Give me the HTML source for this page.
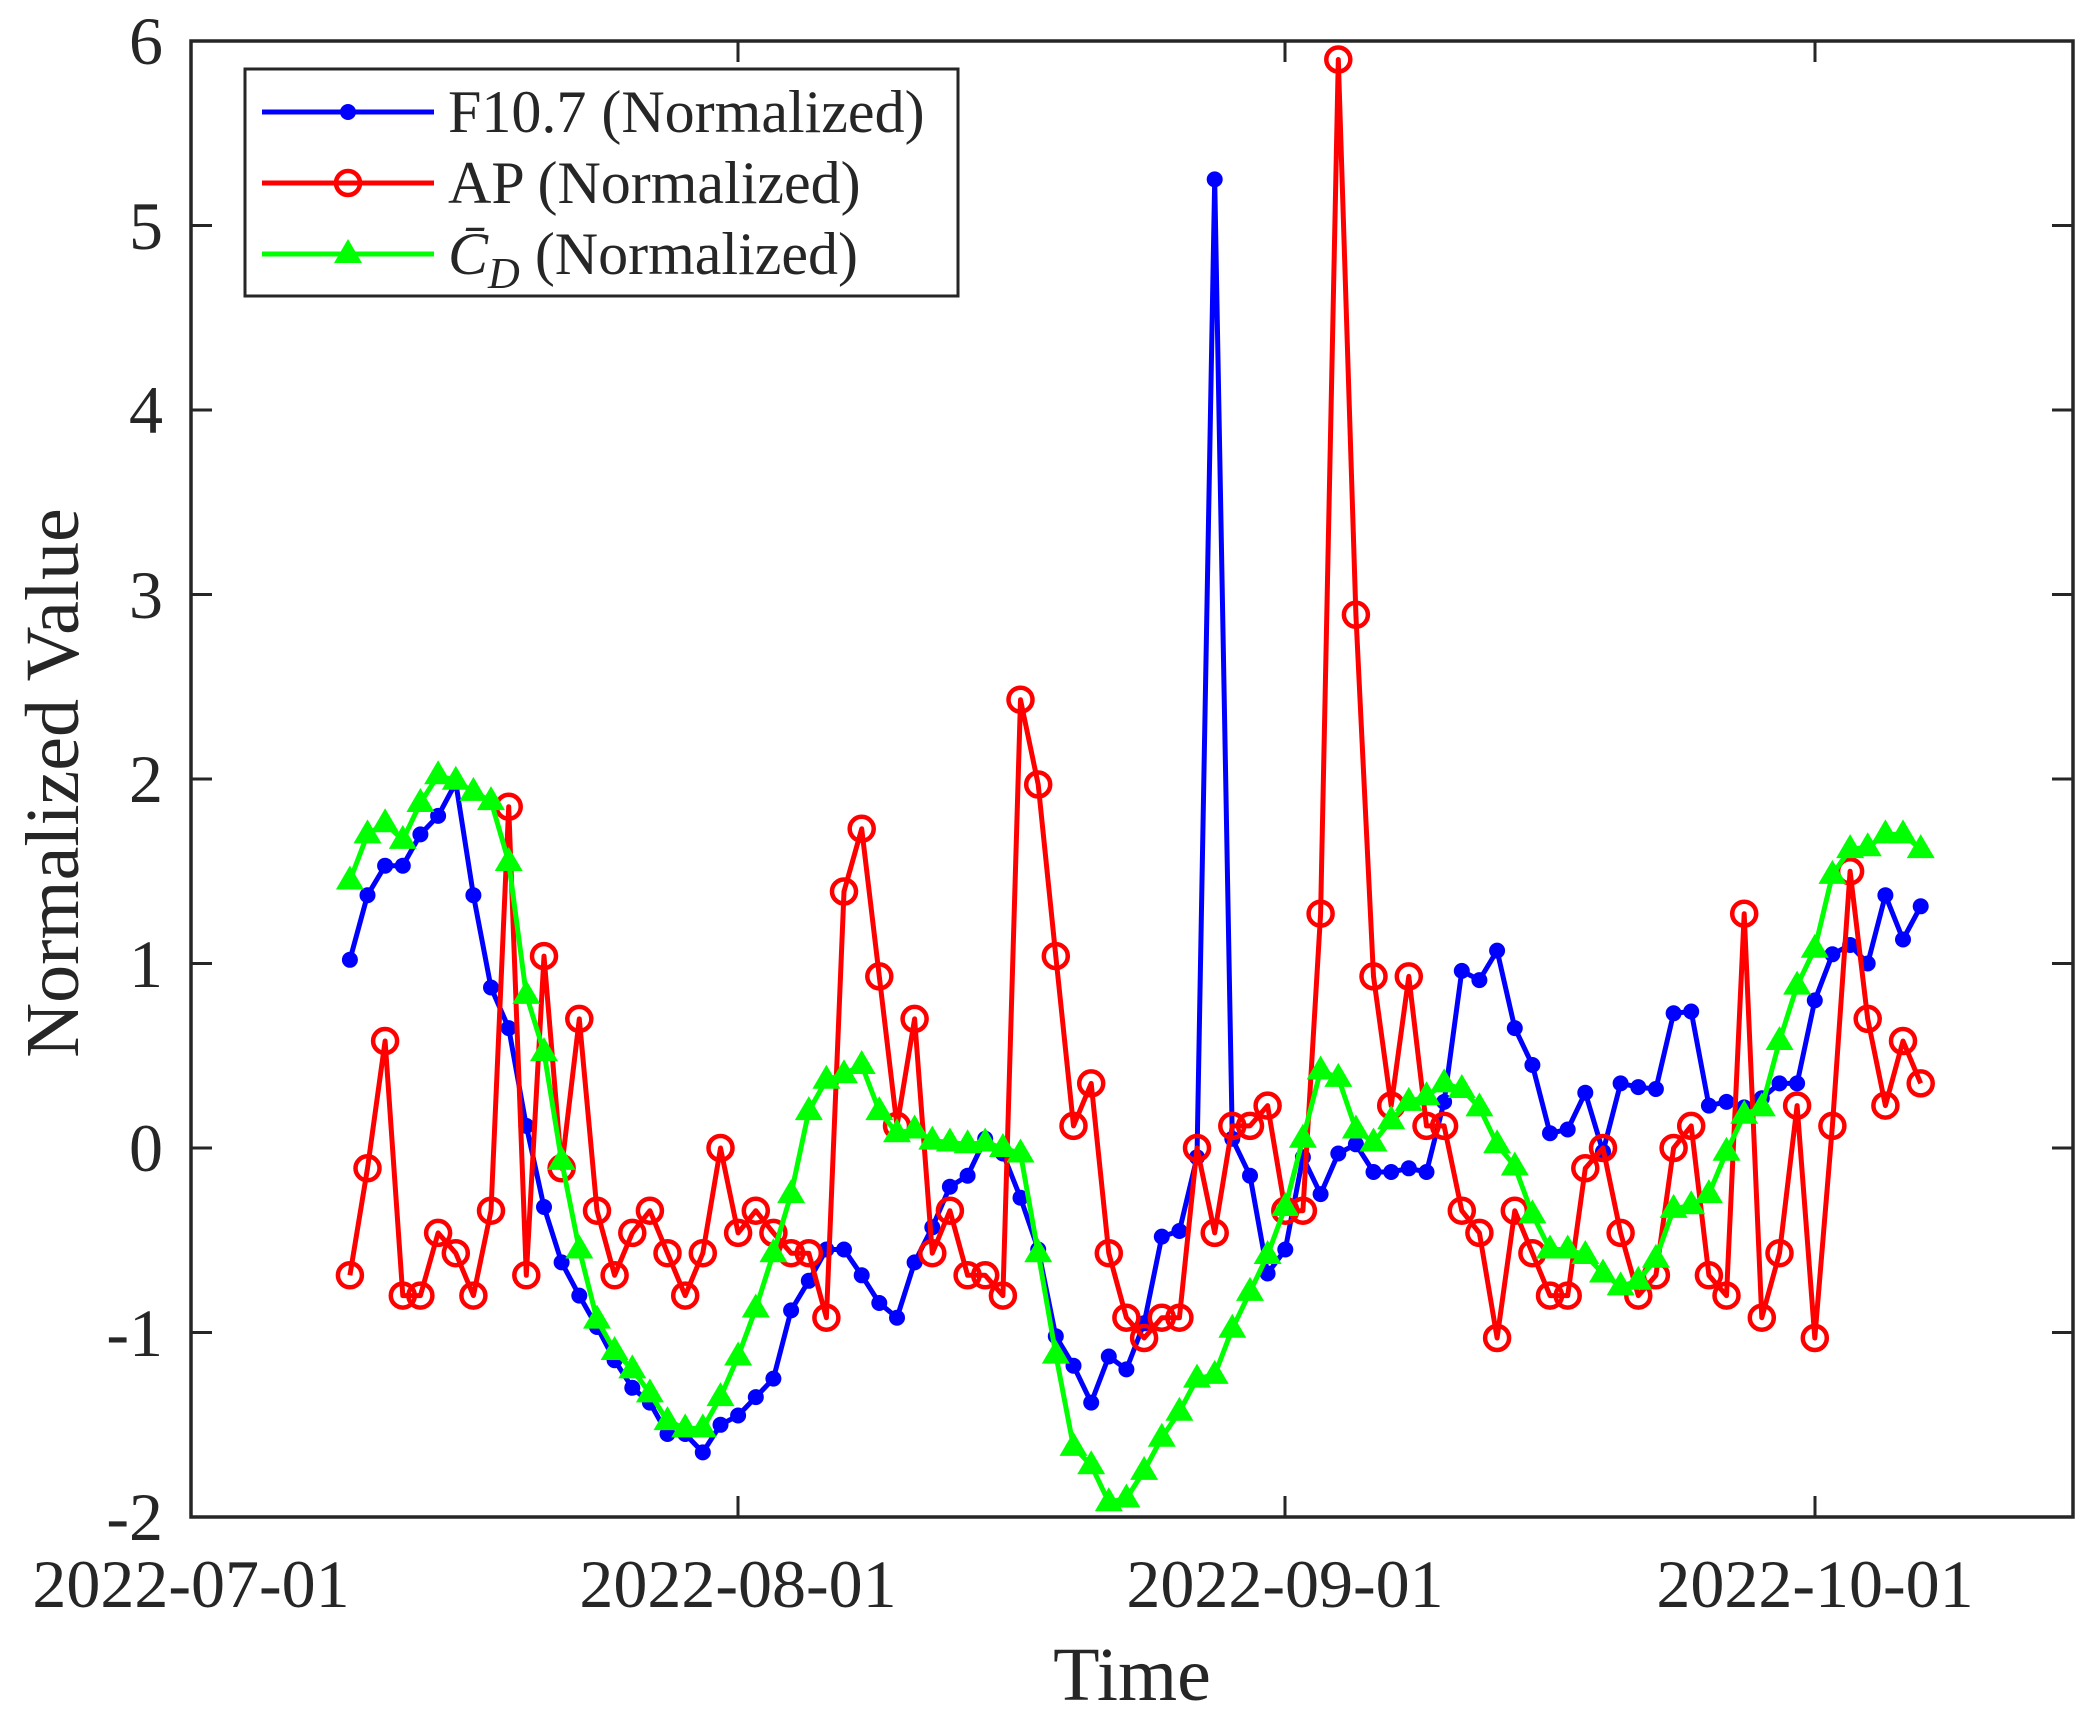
<!DOCTYPE html>
<html><head><meta charset="utf-8"><style>
html,body{margin:0;padding:0;background:#fff}
svg{display:block}
text{font-family:"Liberation Serif",serif;fill:#262626}
</style></head><body>
<svg id="s" width="2090" height="1719" viewBox="0 0 2090 1719" xmlns="http://www.w3.org/2000/svg">
<defs>
<marker id="mb" markerUnits="userSpaceOnUse" markerWidth="24" markerHeight="24" refX="12" refY="12" overflow="visible"><circle cx="12" cy="12" r="8" fill="#0000ff"/></marker>
<marker id="mr" markerUnits="userSpaceOnUse" markerWidth="40" markerHeight="40" refX="20" refY="20" overflow="visible"><circle cx="20" cy="20" r="12" fill="none" stroke="#ff0000" stroke-width="4.5"/></marker>
<marker id="mg" markerUnits="userSpaceOnUse" markerWidth="40" markerHeight="40" refX="20" refY="20" overflow="visible"><polygon points="20,5 34,29 6,29" fill="#00ff00"/></marker>
</defs>
<rect x="191" y="41" width="1882" height="1476" fill="#fff" stroke="#262626" stroke-width="3.5"/>
<g id="ticks" stroke="#262626" stroke-width="3"></g>
<g id="plot"></g>
<g font-size="68">
<text x="163" y="64" text-anchor="end">6</text>
<text x="163" y="249" text-anchor="end">5</text>
<text x="163" y="433" text-anchor="end">4</text>
<text x="163" y="618" text-anchor="end">3</text>
<text x="163" y="802" text-anchor="end">2</text>
<text x="163" y="987" text-anchor="end">1</text>
<text x="163" y="1171" text-anchor="end">0</text>
<text x="163" y="1356" text-anchor="end">-1</text>
<text x="163" y="1540" text-anchor="end">-2</text>
<text x="191" y="1607" text-anchor="middle">2022-07-01</text>
<text x="738" y="1607" text-anchor="middle">2022-08-01</text>
<text x="1285" y="1607" text-anchor="middle">2022-09-01</text>
<text x="1815" y="1607" text-anchor="middle">2022-10-01</text>
</g>
<text x="1132" y="1700" font-size="76" text-anchor="middle">Time</text>
<text transform="translate(78,783) rotate(-90)" font-size="76" text-anchor="middle">Normalized Value</text>
<rect x="245" y="69" width="713" height="227" fill="#fff" stroke="#262626" stroke-width="3"/>
<line x1="262" y1="112" x2="434" y2="112" stroke="#0000ff" stroke-width="5"/><circle cx="348" cy="112" r="8" fill="#0000ff"/>
<line x1="262" y1="183" x2="434" y2="183" stroke="#ff0000" stroke-width="5"/><circle cx="348" cy="183" r="12" fill="none" stroke="#ff0000" stroke-width="4.5"/>
<line x1="262" y1="254" x2="434" y2="254" stroke="#00ff00" stroke-width="5"/><polygon points="348,239 362,263 334,263" fill="#00ff00"/>
<g font-size="60">
<text x="448" y="132">F10.7 (Normalized)</text>
<text x="448" y="203">AP (Normalized)</text>
<text x="448" y="274"><tspan font-style="italic">C̄</tspan><tspan font-style="italic" font-size="44" dy="14">D</tspan><tspan dy="-14"> (Normalized)</tspan></text>
</g>
</svg>
<script>
var F=[1.02,1.37,1.53,1.53,1.70,1.80,1.98,1.37,0.87,0.65,0.12,-0.32,-0.62,-0.80,-0.97,-1.15,-1.30,-1.38,-1.55,-1.55,-1.65,-1.50,-1.45,-1.35,-1.25,-0.88,-0.72,-0.55,-0.55,-0.69,-0.84,-0.92,-0.62,-0.43,-0.21,-0.15,0.05,-0.03,-0.27,-0.55,-1.02,-1.18,-1.38,-1.13,-1.20,-0.95,-0.48,-0.45,-0.05,5.25,0.05,-0.15,-0.68,-0.55,-0.05,-0.25,-0.03,0.02,-0.13,-0.13,-0.11,-0.13,0.25,0.96,0.91,1.07,0.65,0.45,0.08,0.10,0.30,-0.02,0.35,0.33,0.32,0.73,0.74,0.23,0.25,0.22,0.27,0.35,0.35,0.80,1.05,1.10,1.00,1.37,1.13,1.31];
var A=[-0.69,-0.11,0.58,-0.80,-0.80,-0.46,-0.57,-0.80,-0.34,1.85,-0.69,1.04,-0.11,0.70,-0.34,-0.69,-0.46,-0.34,-0.57,-0.80,-0.57,0.00,-0.46,-0.34,-0.46,-0.57,-0.57,-0.92,1.39,1.73,0.93,0.12,0.70,-0.57,-0.34,-0.69,-0.69,-0.80,2.43,1.97,1.04,0.12,0.35,-0.57,-0.92,-1.03,-0.92,-0.92,0.00,-0.46,0.12,0.12,0.23,-0.34,-0.34,1.27,5.90,2.89,0.93,0.23,0.93,0.12,0.12,-0.34,-0.46,-1.03,-0.34,-0.57,-0.80,-0.80,-0.11,0.00,-0.46,-0.80,-0.69,0.00,0.12,-0.69,-0.80,1.27,-0.92,-0.57,0.23,-1.03,0.12,1.50,0.70,0.23,0.58,0.35];
var C=[1.45,1.70,1.76,1.67,1.87,2.02,1.99,1.93,1.88,1.55,0.83,0.52,-0.07,-0.55,-0.93,-1.10,-1.20,-1.33,-1.48,-1.52,-1.52,-1.35,-1.13,-0.87,-0.57,-0.25,0.20,0.37,0.40,0.45,0.20,0.08,0.10,0.04,0.03,0.02,0.03,0.00,-0.03,-0.57,-1.12,-1.62,-1.72,-1.92,-1.90,-1.75,-1.57,-1.43,-1.25,-1.23,-0.98,-0.78,-0.58,-0.32,0.05,0.42,0.38,0.10,0.03,0.15,0.25,0.28,0.35,0.32,0.22,0.02,-0.10,-0.36,-0.55,-0.55,-0.58,-0.68,-0.75,-0.72,-0.60,-0.33,-0.31,-0.25,-0.02,0.18,0.22,0.58,0.88,1.08,1.48,1.62,1.63,1.70,1.70,1.62];
var NS="http://www.w3.org/2000/svg";
function pl(d,col,m){var p=document.createElementNS(NS,"polyline");var s=[];for(var i=0;i<d.length;i++){s.push((191+17.65*(i+9)).toFixed(1)+","+(1148-184.5*d[i]).toFixed(1));}
p.setAttribute("points",s.join(" "));p.setAttribute("fill","none");p.setAttribute("stroke",col);p.setAttribute("stroke-width","5");p.setAttribute("stroke-linejoin","round");
p.setAttribute("marker-start","url(#"+m+")");p.setAttribute("marker-mid","url(#"+m+")");p.setAttribute("marker-end","url(#"+m+")");document.getElementById("plot").appendChild(p);}
pl(F,"#0000ff","mb");pl(A,"#ff0000","mr");pl(C,"#00ff00","mg");
var t=document.getElementById("ticks"),h="";
[738,1285,1815].forEach(function(x){h+='<line x1="'+x+'" y1="1517" x2="'+x+'" y2="1496"/><line x1="'+x+'" y1="41" x2="'+x+'" y2="62"/>';});
for(var v=-1;v<=5;v++){var y=1148-184.5*v;h+='<line x1="191" y1="'+y+'" x2="212" y2="'+y+'"/><line x1="2073" y1="'+y+'" x2="2052" y2="'+y+'"/>';}
t.innerHTML=h;
</script>
</body></html>
